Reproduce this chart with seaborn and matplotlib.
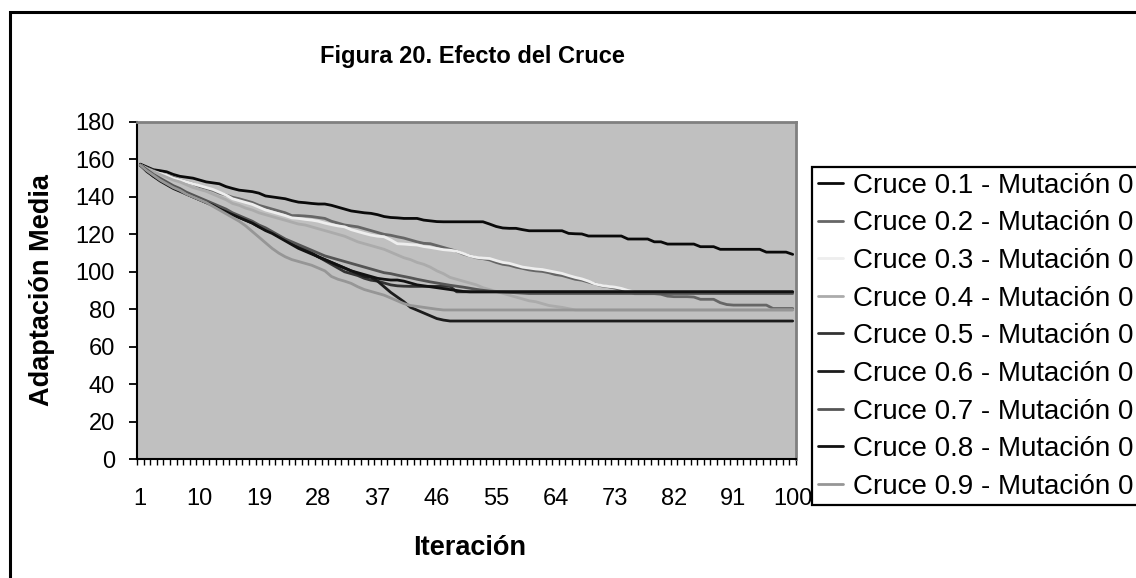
import numpy as np
import pandas as pd
import matplotlib
matplotlib.use("Agg")
import matplotlib.pyplot as plt
import seaborn as sns
from matplotlib.patches import Rectangle
from matplotlib.lines import Line2D

iterations = list(range(1, 101))
tick_labels = [1, 10, 19, 28, 37, 46, 55, 64, 73, 82, 91, 100]

c01 = [157.5, 156.0, 154.5, 154.0, 153.4, 152.0, 151.0, 150.5, 150.0, 149.0,
       148.0, 147.5, 147.0, 145.5, 144.5, 143.6, 143.2, 142.8, 142.0, 140.5,
       140.0, 139.5, 139.0, 138.0, 137.2, 136.9, 136.5, 136.2, 136.2, 135.5,
       134.5, 133.5, 132.5, 132.0, 131.5, 131.2, 130.5, 129.5, 129.0, 128.8,
       128.5, 128.5, 128.5, 127.6, 127.2, 126.8, 126.7, 126.7, 126.7, 126.7,
       126.7, 126.7, 126.7, 125.5, 124.2, 123.4, 123.2, 123.2, 122.5, 121.9,
       121.9, 121.9, 121.9, 121.9, 121.9, 120.5, 120.3, 120.2, 119.1, 119.1,
       119.1, 119.1, 119.1, 119.1, 117.5, 117.5, 117.5, 117.5, 116.0, 116.0,
       114.8, 114.8, 114.8, 114.8, 114.8, 113.4, 113.4, 113.4, 112.0, 112.0,
       112.0, 112.0, 112.0, 112.0, 112.0, 110.5, 110.5, 110.5, 110.5, 109.3]

c02 = [157.0, 155.5, 154.0, 152.5, 151.5, 150.5, 149.0, 148.0, 147.0, 145.5,
       144.5, 143.5, 142.0, 141.0, 139.8, 139.0, 138.0, 137.0, 135.5, 134.5,
       133.5, 132.5, 131.5, 130.0, 130.0, 129.8, 129.5, 129.0, 128.5, 127.0,
       126.0, 125.0, 124.5, 124.0, 123.0, 122.0, 121.0, 120.0, 119.5, 118.7,
       118.0, 117.0, 116.0, 115.2, 115.0, 114.0, 113.0, 112.0, 111.0, 109.5,
       108.5, 107.5, 107.0, 106.3, 105.0, 104.0, 103.5, 102.5, 101.8, 101.0,
       100.5, 100.2, 99.5, 98.5, 98.0, 97.0, 96.0, 95.5, 94.5, 93.5,
       92.5, 92.0, 91.3, 90.5, 89.5, 88.3, 88.3, 88.3, 88.3, 88.0,
       87.0, 86.7, 86.7, 86.7, 86.5, 85.3, 85.3, 85.3, 83.5, 82.5,
       82.2, 82.2, 82.2, 82.2, 82.2, 82.2, 80.4, 80.4, 80.4, 80.4]

c03 = [157.0, 155.0, 153.5, 152.5, 151.5, 150.0, 149.0, 148.0, 147.0, 146.0,
       145.0, 144.0, 142.5, 141.0, 139.0, 138.0, 137.0, 136.0, 134.5, 133.0,
       132.0, 131.0, 130.0, 128.8, 128.5, 128.0, 127.6, 127.0, 126.0, 125.2,
       124.5, 124.0, 122.5, 121.5, 120.5, 119.6, 119.0, 118.7, 117.0, 115.0,
       114.8, 114.5, 114.3, 113.5, 113.0, 112.4, 111.8, 111.5, 111.0, 109.8,
       108.5, 107.7, 107.3, 107.1, 106.0, 105.0, 104.5, 103.5, 102.5, 102.0,
       101.5, 101.2, 100.5, 99.8, 99.1, 98.0, 97.0, 96.2, 95.0, 93.5,
       92.7, 92.2, 91.8, 91.1, 90.0, 89.2, 89.2, 89.2, 89.2, 89.2,
       89.2, 89.2, 89.2, 89.2, 89.2, 89.2, 89.2, 89.2, 89.2, 89.2,
       89.2, 89.2, 89.2, 89.2, 89.2, 89.2, 89.2, 89.2, 89.2, 89.2]

c04 = [157.0, 155.0, 153.5, 152.0, 150.5, 149.0, 148.0, 146.5, 145.0, 144.0,
       143.0, 141.5, 140.0, 138.5, 136.5, 135.5, 134.0, 133.0, 131.5, 130.5,
       129.5, 128.5, 127.5, 126.5, 125.5, 125.0, 124.0, 123.0, 122.0, 121.0,
       120.0, 119.0, 117.5, 116.0, 115.0, 114.0, 113.0, 112.0, 110.5, 109.0,
       107.5, 106.5, 105.0, 104.0, 102.5, 100.5, 99.0, 97.0, 96.0, 95.0,
       94.0, 93.0, 91.5, 90.5, 89.5, 88.5, 87.5, 86.5, 85.5, 84.5,
       84.0, 83.0, 82.0, 81.5, 81.0, 80.3, 79.6, 79.6, 79.6, 79.6,
       79.6, 79.6, 79.6, 79.6, 79.6, 79.6, 79.6, 79.6, 79.6, 79.6,
       79.6, 79.6, 79.6, 79.6, 79.6, 79.6, 79.6, 79.6, 79.6, 79.6,
       79.6, 79.6, 79.6, 79.6, 79.6, 79.6, 79.6, 79.6, 79.6, 79.6]

c05 = [157.0, 154.0, 151.5, 149.5, 147.5, 145.5, 143.5, 142.0, 140.5, 139.0,
       137.5, 136.0, 134.5, 132.5, 131.0, 129.5, 128.0, 126.5, 124.5, 123.0,
       121.0, 119.0, 117.0, 115.0, 113.5, 112.0, 110.0, 108.0, 106.0, 104.0,
       102.0, 100.0, 99.0, 98.0, 96.5, 95.5, 95.0, 94.0, 93.0, 92.5,
       92.3, 92.2, 92.2, 92.2, 92.2, 92.2, 92.2, 92.2, 89.3, 89.3,
       89.3, 89.3, 89.3, 89.3, 89.3, 89.3, 89.3, 89.3, 89.3, 89.3,
       89.3, 89.3, 89.3, 89.3, 89.3, 89.3, 89.3, 89.3, 89.3, 89.3,
       89.3, 89.3, 89.3, 89.3, 89.3, 89.3, 89.3, 89.3, 89.3, 89.3,
       89.3, 89.3, 89.3, 89.3, 89.3, 89.3, 89.3, 89.3, 89.3, 89.3,
       89.3, 89.3, 89.3, 89.3, 89.3, 89.3, 89.3, 89.3, 89.3, 89.3]

c06 = [157.0, 153.5, 151.0, 149.0, 147.0, 145.0, 143.5, 141.5, 140.0, 138.5,
       137.0, 135.5, 134.0, 132.5, 130.5, 129.0, 127.5, 126.0, 124.0, 122.5,
       121.0, 119.0, 117.0, 115.0, 113.0, 111.5, 110.0, 108.0, 106.5, 105.0,
       103.5, 102.0, 100.5, 99.0, 97.5, 97.0, 95.0, 92.0, 89.0, 86.5,
       84.0, 81.0, 79.5, 78.0, 76.5, 75.0, 74.2, 73.7, 73.7, 73.7,
       73.7, 73.7, 73.7, 73.7, 73.7, 73.7, 73.7, 73.7, 73.7, 73.7,
       73.7, 73.7, 73.7, 73.7, 73.7, 73.7, 73.7, 73.7, 73.7, 73.7,
       73.7, 73.7, 73.7, 73.7, 73.7, 73.7, 73.7, 73.7, 73.7, 73.7,
       73.7, 73.7, 73.7, 73.7, 73.7, 73.7, 73.7, 73.7, 73.7, 73.7,
       73.7, 73.7, 73.7, 73.7, 73.7, 73.7, 73.7, 73.7, 73.7, 73.7]

c07 = [157.0, 154.5, 152.0, 150.0, 148.0, 146.0, 144.5, 142.5, 141.0, 139.5,
       138.0, 136.5, 135.0, 133.5, 131.5, 130.0, 128.5, 127.0, 125.0, 123.5,
       121.5, 119.5, 117.5, 116.0, 114.5, 113.0, 111.5, 110.0, 108.5, 107.5,
       106.5, 105.5, 104.5, 103.5, 102.5, 101.5, 100.5, 99.5, 99.0, 98.2,
       97.5, 96.8, 96.0, 95.3, 94.6, 94.0, 93.4, 92.8, 92.3, 91.8,
       91.2, 90.6, 90.1, 89.7, 89.4, 89.2, 89.0, 88.8, 88.6, 88.4,
       88.4, 88.4, 88.4, 88.4, 88.4, 88.4, 88.4, 88.4, 88.4, 88.4,
       88.4, 88.4, 88.4, 88.4, 88.4, 88.4, 88.4, 88.4, 88.4, 88.4,
       88.4, 88.4, 88.4, 88.4, 88.4, 88.4, 88.4, 88.4, 88.4, 88.4,
       88.4, 88.4, 88.4, 88.4, 88.4, 88.4, 88.4, 88.4, 88.4, 88.4]

c08 = [157.0, 154.0, 151.0, 148.5, 146.5, 144.5, 143.0, 141.5, 140.0, 138.5,
       137.0, 135.5, 133.5, 132.0, 130.5, 129.0, 127.5, 126.0, 124.0, 122.0,
       120.5, 118.5, 116.5, 114.5, 112.5, 111.0, 109.5, 108.0, 106.5, 105.0,
       103.5, 102.0, 100.5, 99.5, 98.5, 97.5, 96.5, 96.0, 95.6, 95.6,
       95.0, 94.0, 93.0, 92.5, 92.0, 91.5, 91.0, 90.5, 90.0, 89.5,
       89.3, 89.3, 89.3, 89.3, 89.3, 89.3, 89.3, 89.3, 89.3, 89.3,
       89.3, 89.3, 89.3, 89.3, 89.3, 89.3, 89.3, 89.3, 89.3, 89.3,
       89.3, 89.3, 89.3, 89.3, 89.3, 89.3, 89.3, 89.3, 89.3, 89.3,
       89.3, 89.3, 89.3, 89.3, 89.3, 89.3, 89.3, 89.3, 89.3, 89.3,
       89.3, 89.3, 89.3, 89.3, 89.3, 89.3, 89.3, 89.3, 89.3, 89.3]

c09 = [157.0, 154.0, 151.5, 149.0, 147.0, 145.0, 143.5, 141.5, 140.0, 138.5,
       137.0, 135.0, 133.0, 131.0, 129.0, 127.0, 124.5, 121.5, 118.5, 115.5,
       112.5, 110.0, 108.0, 106.5, 105.5, 104.5, 103.5, 102.0, 100.5, 97.5,
       96.0, 95.0, 93.8, 92.0, 90.5, 89.5, 88.5, 87.5, 86.0, 84.5,
       83.0, 82.0, 81.5, 81.0, 80.5, 80.0, 79.6, 79.6, 79.6, 79.6,
       79.6, 79.6, 79.6, 79.6, 79.6, 79.6, 79.6, 79.6, 79.6, 79.6,
       79.6, 79.6, 79.6, 79.6, 79.6, 79.6, 79.6, 79.6, 79.6, 79.6,
       79.6, 79.6, 79.6, 79.6, 79.6, 79.6, 79.6, 79.6, 79.6, 79.6,
       79.6, 79.6, 79.6, 79.6, 79.6, 79.6, 79.6, 79.6, 79.6, 79.6,
       79.6, 79.6, 79.6, 79.6, 79.6, 79.6, 79.6, 79.6, 79.6, 79.6]

series_names = ["Cruce 0.1 - Mutación 0", "Cruce 0.2 - Mutación 0",
                "Cruce 0.3 - Mutación 0", "Cruce 0.4 - Mutación 0",
                "Cruce 0.5 - Mutación 0", "Cruce 0.6 - Mutación 0",
                "Cruce 0.7 - Mutación 0", "Cruce 0.8 - Mutación 0",
                "Cruce 0.9 - Mutación 0"]
series_values = [c01, c02, c03, c04, c05, c06, c07, c08, c09]
colors = ["#0a0a0a", "#666666", "#eeeeee", "#ababab", "#333333",
          "#1c1c1c", "#555555", "#111111", "#969696"]

title = "Figura 20. Efecto del Cruce"
xlabel = "Iteración"
ylabel = "Adaptación Media"

sns.set_theme(style="white")
plt.rcParams['font.family'] = ['Liberation Sans', 'DejaVu Sans']

W, H = 1136, 578
fig = plt.figure(figsize=(W / 100, H / 100), dpi=100)
fig.patch.set_facecolor("white")
L, R, T, B = 137, 796, 122, 459
ax = fig.add_axes([L / W, 1 - B / H, (R - L) / W, (B - T) / H])
ax.set_facecolor("#c0c0c0")

rows = []
for name, vals in zip(series_names, series_values):
    for it, v in zip(iterations, vals):
        rows.append({"Iteración": it, "Serie": name, "Valor": v})
df = pd.DataFrame(rows)

sns.lineplot(data=df, x="Iteración", y="Valor", hue="Serie",
             hue_order=series_names, palette=dict(zip(series_names, colors)),
             estimator=None, linewidth=2.0, legend=False, ax=ax)

ax.set_xlim(0.5, 100.5)
ax.set_ylim(0, 180)
ax.set_yticks(np.arange(0, 181, 20))
ax.set_xticks(tick_labels)
ax.set_xticklabels([str(t) for t in tick_labels])
ax.set_xticks(np.arange(0.5, 101, 1), minor=True)
ax.tick_params(axis="x", which="major", length=0, pad=21, labelsize=17, colors="black")
ax.tick_params(axis="x", which="minor", length=4.5, width=1.0, direction="out",
               color="black", bottom=True)
ax.tick_params(axis="y", which="major", length=6, width=1.3, direction="out",
               pad=10, labelsize=17, color="black", labelcolor="black", left=True)
ax.grid(False)

for s in ["left", "bottom"]:
    ax.spines[s].set_color("black")
    ax.spines[s].set_linewidth(1.5)
for s in ["top", "right"]:
    ax.spines[s].set_color("#808080")
    ax.spines[s].set_linewidth(2.0)

ax.set_xlabel(xlabel, fontsize=19.5, fontweight="bold", color="black", va="center")
ax.xaxis.set_label_coords(0.505, (B - 548) / (B - T))
ax.set_ylabel(ylabel, fontsize=19.5, fontweight="bold", color="black", va="center")
ax.yaxis.set_label_coords((42 - L) / (R - L), 0.5)

fig.text(472 / W, 1 - 57 / H, title, ha="center", va="center",
         fontsize=17, fontweight="bold", color="black")

handles = [Line2D([], [], color=c, lw=2.0) for c in colors]
leg = fig.legend(handles, series_names, loc="upper left",
                 bbox_to_anchor=(812 / W, 1 - 167 / H), bbox_transform=fig.transFigure,
                 borderaxespad=0, frameon=True, fancybox=False, edgecolor="black",
                 facecolor="white", framealpha=1, fontsize=20, handlelength=0.9,
                 handletextpad=0.36, borderpad=0.2, labelspacing=0.42)
leg.get_frame().set_linewidth(1.6)
for t in leg.get_texts():
    t.set_color("black")

fig.patches.append(Rectangle((10 / W, -0.1), 1.2, (1 - 12.5 / H) + 0.1,
                             transform=fig.transFigure, fill=False,
                             edgecolor="black", linewidth=2.2))

fig.savefig("out.png", dpi=100)
